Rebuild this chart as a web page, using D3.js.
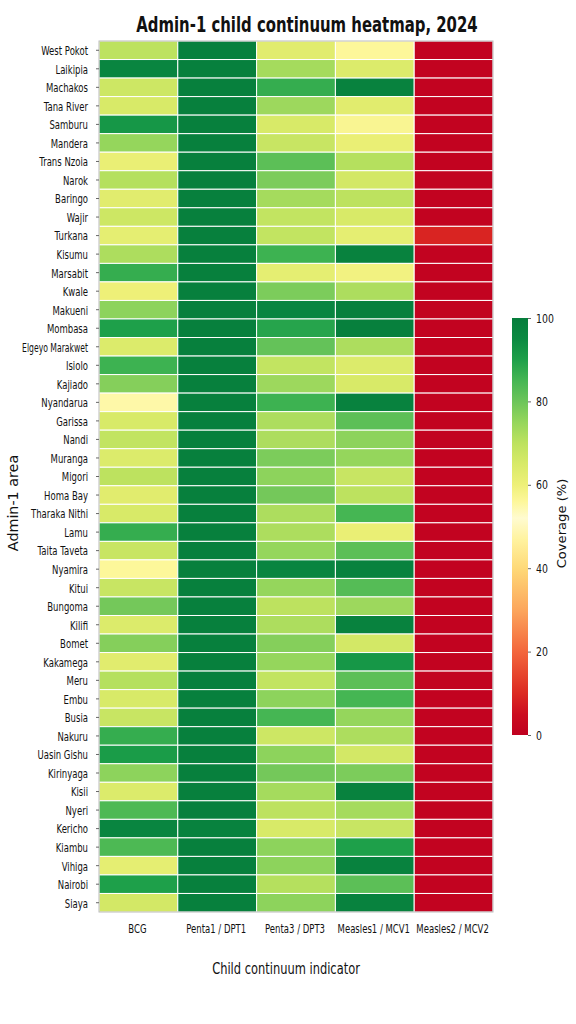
<!DOCTYPE html>
<html><head><meta charset="utf-8">
<script src="https://cdn.jsdelivr.net/npm/d3@7"></script>
<style>html,body{margin:0;padding:0;background:#fff}svg{display:block}text{font-family:"DejaVu Sans",sans-serif;fill:#111}</style>
</head><body><svg id="c" width="576" height="1024"></svg>
<script>
const areas=["West Pokot","Laikipia","Machakos","Tana River","Samburu","Mandera","Trans Nzoia","Narok","Baringo","Wajir","Turkana","Kisumu","Marsabit","Kwale","Makueni","Mombasa","Elgeyo Marakwet","Isiolo","Kajiado","Nyandarua","Garissa","Nandi","Muranga","Migori","Homa Bay","Tharaka Nithi","Lamu","Taita Taveta","Nyamira","Kitui","Bungoma","Kilifi","Bomet","Kakamega","Meru","Embu","Busia","Nakuru","Uasin Gishu","Kirinyaga","Kisii","Nyeri","Kericho","Kiambu","Vihiga","Nairobi","Siaya"];
const indicators=["BCG","Penta1 / DPT1","Penta3 / DPT3","Measles1 / MCV1","Measles2 / MCV2"];
const bcg=[70,97,67,65,92,75,61,71,63,67,62,72,87,60,76,90,64,86,77,55,65,69,64,70,63,65,87,68,56,68,79,64,77,63,71,65,68,87,91,76,64,84,97,84,62,90,66];
const penta1=[99,99,99,99,99,99,99,99,99,99,99,99,99,99,99,99,99,99,99,99,99,99,99,99,99,99,99,99,99,99,99,99,99,99,99,99,99,99,99,99,99,99,98,99,99,99,99];
const penta3=[63,73,87,74,65,68,82,78,73,69,69,86,62,78,97,89,81,69,74,86,72,72,78,76,79,72,72,75,97,75,70,72,77,75,69,76,85,67,76,79,73,70,65,76,76,71,76];
const measles1=[56,64,98,63,57,61,71,66,70,65,62,98,59,72,99,99,72,64,65,98,82,76,75,68,70,85,61,82,98,83,74,98,66,92,82,85,75,72,66,78,98,73,68,90,98,82,98];
const measles2=[1,1,1,1,1,1,1,1,1,1,9,1,1,1,1,1,1,1,1,1,1,1,1,1,1,1,1,1,1,1,1,1,1,1,1,1,1,1,1,1,1,1,1,1,1,1,1];
const series=[bcg,penta1,penta3,measles1,measles2];
const colorDomain=[0,5,10,20,30,40,47,52,56,60,65,70,75,80,85,90,95,100];
const colorRange=["#bf0020","#cc0d20","#dc2a22","#f3663c","#fca65c","#fed978","#fff3a0","#fffbd0","#fdf79a","#eef078","#d8ea68","#bde25f","#95d65c","#6cc55a","#45b653","#1ea04a","#0b8a42","#067d3c"];
const barTicks=[0,20,40,60,80,100];

const svg=d3.select("#c");
const x=d3.scaleBand().domain(indicators).range([99,493]);
const y=d3.scaleBand().domain(areas).range([41,912]);
const color=d3.scaleLinear().domain(colorDomain).range(colorRange);

const cells=series.flatMap((s,c)=>s.map((v,r)=>({c:indicators[c],r:areas[r],v})));
svg.append("g").selectAll("rect").data(cells).join("rect")
  .attr("x",d=>x(d.c)).attr("y",d=>y(d.r))
  .attr("width",x.bandwidth()).attr("height",y.bandwidth())
  .attr("fill",d=>color(d.v)).attr("stroke","#fff").attr("stroke-width",1);
svg.append("rect").attr("x",99).attr("y",41).attr("width",394).attr("height",871)
  .attr("fill","none").attr("stroke","#bbb").attr("stroke-width",1);

function squeezeText(sel,sx,dy,dx,maxW){sel.selectAll("text").each(function(){
  const t=d3.select(this);const ox=+t.attr("x")||0;
  const s=maxW?Math.min(sx,maxW/this.getComputedTextLength()):sx;
  t.attr("x",ox/s).attr("transform",`translate(${dx||0},${dy}) scale(${s},1)`);});}

const ay=svg.append("g").attr("transform","translate(99,0)")
  .call(d3.axisLeft(y).tickSize(3).tickPadding(8));
ay.select(".domain").remove();
ay.selectAll("line").attr("stroke","#666");
ay.selectAll("text").attr("font-size",12).attr("fill","#111");
squeezeText(ay,0.71,1,0,66);

const ax=svg.append("g").attr("transform","translate(0,912)")
  .call(d3.axisBottom(x).tickSize(0).tickPadding(12));
ax.select(".domain").remove();
ax.selectAll("text").attr("font-size",12).attr("fill","#111");
ax.selectAll("g.tick").each(function(d){
  const t=d3.select(this).select("text");const cx=x(d)+x.bandwidth()/2;
  t.attr("text-anchor","middle");
});
squeezeText(ax,0.71,0,-1);

svg.append("text").attr("transform","translate(307,32) scale(0.727,1)").attr("text-anchor","middle")
  .attr("font-size",20.5).attr("font-weight","bold").text("Admin-1 child continuum heatmap, 2024");
svg.append("text").attr("transform","translate(286,974) scale(0.716,1)").attr("text-anchor","middle")
  .attr("font-size",16).text("Child continuum indicator");
svg.append("text").attr("transform","translate(18,503) rotate(-90) scale(1.06,1)").attr("text-anchor","middle")
  .attr("font-size",13.5).text("Admin-1 area");

const defs=svg.append("defs");
const grad=defs.append("linearGradient").attr("id","cb").attr("x1",0).attr("x2",0).attr("y1",1).attr("y2",0);
grad.selectAll("stop").data(colorDomain).join("stop")
  .attr("offset",d=>d/100).attr("stop-color",d=>color(d));
const cy=d3.scaleLinear().domain([0,100]).range([735,318]);
svg.append("rect").attr("x",512).attr("y",318).attr("width",16).attr("height",417)
  .attr("fill","url(#cb)");
const ac=svg.append("g").attr("transform","translate(528,0)")
  .call(d3.axisRight(cy).tickValues(barTicks).tickSize(3).tickPadding(5));
ac.select(".domain").remove();
ac.selectAll("line").attr("stroke","#666");
ac.selectAll("text").attr("font-size",13).attr("fill","#111");
squeezeText(ac,0.72,0);
svg.append("text").attr("transform","translate(566,523.5) rotate(-90) scale(1.14,1)").attr("text-anchor","middle")
  .attr("font-size",11.5).text("Coverage (%)");
</script></body></html>
